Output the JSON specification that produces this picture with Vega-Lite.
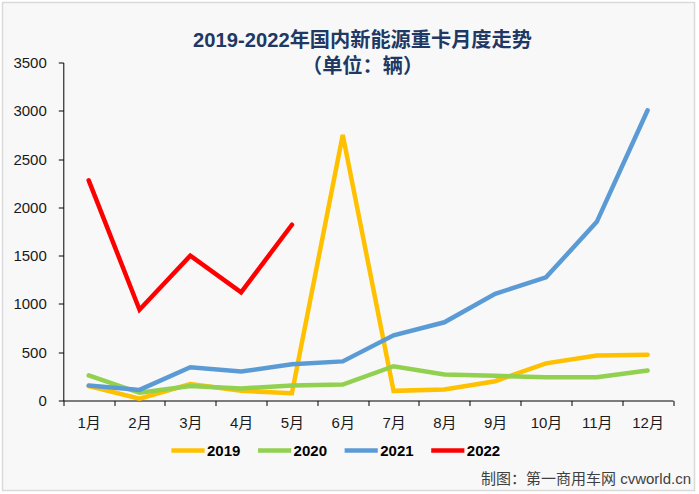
{
  "$schema": "https://vega.github.io/schema/vega-lite/v6.json",
  "width": 692,
  "height": 488,
  "autosize": {"type": "none"},
  "padding": {"left": 2.5, "top": 2.5, "right": 2, "bottom": 2},
  "background": "#ffffff",
  "config": {
    "font": "Liberation Sans, Noto Sans CJK SC",
    "view": {"stroke": "#d9d9d9", "strokeWidth": 1.5, "fill": "#f8f8f8"}
  },
  "title": {
    "text": ["2019-2022年国内新能源重卡月度走势", "（单位：辆）"],
    "anchor": "middle",
    "frame": "group",
    "offset": -75,
    "dx": 14,
    "fontSize": 20.2,
    "lineHeight": 26,
    "fontWeight": "bold",
    "color": "#1f3864"
  },
  "data": {
    "values": [
      {"month": "1月", "year": "2019", "sales": 150},
      {"month": "2月", "year": "2019", "sales": 20},
      {"month": "3月", "year": "2019", "sales": 170},
      {"month": "4月", "year": "2019", "sales": 100},
      {"month": "5月", "year": "2019", "sales": 75},
      {"month": "6月", "year": "2019", "sales": 2750},
      {"month": "7月", "year": "2019", "sales": 100},
      {"month": "8月", "year": "2019", "sales": 115},
      {"month": "9月", "year": "2019", "sales": 200},
      {"month": "10月", "year": "2019", "sales": 385},
      {"month": "11月", "year": "2019", "sales": 465},
      {"month": "12月", "year": "2019", "sales": 475},
      {"month": "1月", "year": "2020", "sales": 260},
      {"month": "2月", "year": "2020", "sales": 80},
      {"month": "3月", "year": "2020", "sales": 150},
      {"month": "4月", "year": "2020", "sales": 125},
      {"month": "5月", "year": "2020", "sales": 155},
      {"month": "6月", "year": "2020", "sales": 165},
      {"month": "7月", "year": "2020", "sales": 355},
      {"month": "8月", "year": "2020", "sales": 270},
      {"month": "9月", "year": "2020", "sales": 255},
      {"month": "10月", "year": "2020", "sales": 240},
      {"month": "11月", "year": "2020", "sales": 240},
      {"month": "12月", "year": "2020", "sales": 310},
      {"month": "1月", "year": "2021", "sales": 155},
      {"month": "2月", "year": "2021", "sales": 110},
      {"month": "3月", "year": "2021", "sales": 345},
      {"month": "4月", "year": "2021", "sales": 300},
      {"month": "5月", "year": "2021", "sales": 375},
      {"month": "6月", "year": "2021", "sales": 405},
      {"month": "7月", "year": "2021", "sales": 675},
      {"month": "8月", "year": "2021", "sales": 810},
      {"month": "9月", "year": "2021", "sales": 1105},
      {"month": "10月", "year": "2021", "sales": 1275},
      {"month": "11月", "year": "2021", "sales": 1850},
      {"month": "12月", "year": "2021", "sales": 3005},
      {"month": "1月", "year": "2022", "sales": 2280},
      {"month": "2月", "year": "2022", "sales": 940},
      {"month": "3月", "year": "2022", "sales": 1500},
      {"month": "4月", "year": "2022", "sales": 1120},
      {"month": "5月", "year": "2022", "sales": 1820}
    ]
  },
  "mark": {"type": "line", "strokeWidth": 4.5, "strokeCap": "round", "strokeJoin": "miter"},
  "encoding": {
    "x": {
      "field": "month",
      "type": "ordinal",
      "sort": ["1月", "2月", "3月", "4月", "5月", "6月", "7月", "8月", "9月", "10月", "11月", "12月"],
      "scale": {"type": "band", "range": [60.8, 670.5], "paddingInner": 0, "paddingOuter": 0},
      "axis": {
        "offset": -90,
        "tickBand": "extent",
        "labelAngle": 0,
        "labelFontSize": 15,
        "labelColor": "#1a1a1a",
        "labelPadding": 10,
        "domainColor": "#000000",
        "tickColor": "#000000",
        "tickSize": 5,
        "grid": false,
        "title": "制图：第一商用车网 cvworld.cn",
        "titleFontSize": 15,
        "titleFontWeight": "normal",
        "titleColor": "#404040",
        "titleX": 688,
        "titleY": 77.5,
        "titleAlign": "right",
        "titleBaseline": "middle"
      }
    },
    "y": {
      "field": "sales",
      "type": "quantitative",
      "scale": {"domain": [0, 3500], "range": [398, 60]},
      "axis": {
        "offset": -60.8,
        "values": [0, 500, 1000, 1500, 2000, 2500, 3000, 3500],
        "format": "d",
        "labelFontSize": 15,
        "labelColor": "#1a1a1a",
        "labelPadding": 12,
        "domainColor": "#000000",
        "tickColor": "#000000",
        "tickSize": 5,
        "grid": false,
        "title": null
      }
    },
    "color": {
      "field": "year",
      "type": "nominal",
      "scale": {"domain": ["2019", "2020", "2021", "2022"], "range": ["#ffc000", "#92d050", "#5b9bd5", "#ff0000"]},
      "legend": {
        "orient": "none",
        "direction": "horizontal",
        "columns": 4,
        "legendX": 166.5,
        "legendY": 429,
        "title": null,
        "symbolType": "stroke",
        "symbolSize": 1100,
        "symbolStrokeWidth": 4.5,
        "labelFontSize": 15,
        "labelFontWeight": "bold",
        "labelColor": "#000000",
        "labelOffset": 0,
        "columnPadding": 7.6
      }
    }
  }
}
